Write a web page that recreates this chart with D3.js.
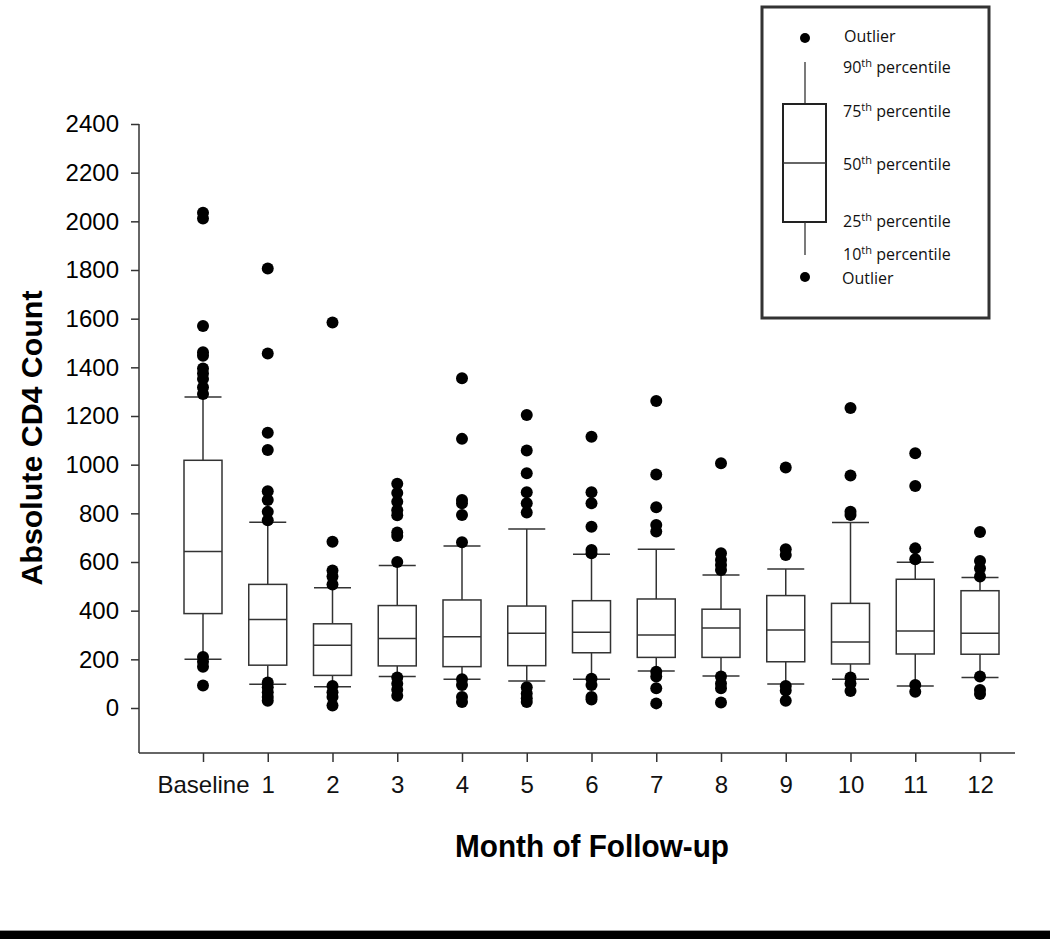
<!DOCTYPE html>
<html>
<head>
<meta charset="utf-8">
<script src="https://cdn.jsdelivr.net/npm/d3@7"></script>
<style>
  html, body { margin: 0; padding: 0; background: #fff; }
  svg { display: block; }
</style>
</head>
<body>
<svg id="chart" width="1050" height="939"></svg>
<script>
const categories = ["Baseline","1","2","3","4","5","6","7","8","9","10","11","12"];
const p10    = [200, 98, 87, 129, 118, 111, 118, 152, 132, 99, 118, 90, 125];
const q1     = [388, 176, 134, 173, 170, 174, 227, 208, 208, 190, 181, 222, 221];
const median = [643, 364, 258, 286, 293, 307, 311, 300, 329, 321, 271, 316, 307];
const q3     = [1018, 508, 346, 421, 444, 419, 441, 448, 406, 462, 430, 529, 482];
const p90    = [1278, 763, 494, 586, 666, 736, 632, 652, 547, 571, 762, 599, 536];
const outliers = [
  [2035, 2012, 1570, 1462, 1448, 1395, 1375, 1352, 1318, 1290, 210, 190, 170, 92],
  [1806, 1457, 1131, 1060, 891, 855, 806, 772, 105, 85, 65, 45, 30],
  [1584, 683, 565, 540, 508, 90, 65, 45, 10],
  [922, 884, 848, 813, 792, 721, 707, 600, 125, 100, 75, 50],
  [1355, 1106, 855, 841, 793, 681, 118, 95, 45, 25],
  [1204, 1058, 965, 887, 841, 803, 85, 60, 40, 25],
  [1115, 887, 841, 745, 649, 636, 120, 95, 45, 35],
  [1262, 960, 825, 752, 725, 149, 129, 81, 19],
  [1006, 636, 608, 588, 567, 129, 101, 81, 23],
  [988, 652, 629, 90, 72, 30],
  [1233, 955, 807, 793, 125, 101, 70],
  [1047, 912, 656, 611, 95, 67],
  [723, 604, 574, 540, 129, 74, 58]
];
const yTicks = [0, 200, 400, 600, 800, 1000, 1200, 1400, 1600, 1800, 2000, 2200, 2400];
const xTitle = "Month of Follow-up";
const yTitle = "Absolute CD4 Count";

const svg = d3.select("#chart");
const lineColor = "#333";
const boxW = 38, capW = 37, dotR = 6;

const x = d3.scalePoint().domain(categories).range([203, 980]);
const y = d3.scaleLinear().domain([0, 2400]).range([708, 124]);
const axisX = 139, axisBottom = 753, axisRight = 1015;

// Y axis
const yAxis = d3.axisLeft(y).tickValues(yTicks).tickSize(8).tickPadding(12).tickFormat(d3.format("d"));
const gy = svg.append("g").attr("transform", `translate(${axisX},0)`).call(yAxis);
gy.select(".domain").remove();
gy.selectAll(".tick line").attr("stroke", lineColor).attr("stroke-width", 1.5);
gy.selectAll(".tick text").attr("font-family", "Liberation Sans, Arial, sans-serif")
  .attr("font-size", 24).attr("fill", "#000");
svg.append("line").attr("x1", axisX).attr("x2", axisX).attr("y1", y(2400)).attr("y2", axisBottom)
  .attr("stroke", lineColor).attr("stroke-width", 1.5);

// X axis
const xAxis = d3.axisBottom(x).tickSize(9).tickPadding(14);
const gx = svg.append("g").attr("transform", `translate(0,${axisBottom})`).call(xAxis);
gx.select(".domain").remove();
gx.selectAll(".tick line").attr("stroke", lineColor).attr("stroke-width", 1.5);
gx.selectAll(".tick text").attr("font-family", "Liberation Sans, Arial, sans-serif")
  .attr("font-size", 24).attr("fill", "#111");
svg.append("line").attr("x1", axisX).attr("x2", axisRight).attr("y1", axisBottom).attr("y2", axisBottom)
  .attr("stroke", lineColor).attr("stroke-width", 1.5);

// Titles
svg.append("text").attr("x", 592).attr("y", 857).attr("text-anchor", "middle")
  .attr("font-family", "Liberation Sans, Arial, sans-serif").attr("font-weight", "bold")
  .attr("font-size", 31).attr("fill", "#000").attr("textLength", 274).attr("lengthAdjust", "spacingAndGlyphs")
  .text(xTitle);
svg.append("text").attr("transform", "translate(42,438) rotate(-90)").attr("text-anchor", "middle")
  .attr("font-family", "Liberation Sans, Arial, sans-serif").attr("font-weight", "bold")
  .attr("font-size", 30).attr("fill", "#000").attr("textLength", 295).attr("lengthAdjust", "spacingAndGlyphs")
  .text(yTitle);

// Boxes
const data = categories.map((c, i) => ({ c, p10: p10[i], q1: q1[i], med: median[i], q3: q3[i], p90: p90[i], out: outliers[i] }));
const g = svg.append("g").selectAll("g").data(data).join("g");
g.append("line").attr("x1", d => x(d.c)).attr("x2", d => x(d.c))
  .attr("y1", d => y(d.q3)).attr("y2", d => y(d.p90)).attr("stroke", lineColor).attr("stroke-width", 1.5);
g.append("line").attr("x1", d => x(d.c)).attr("x2", d => x(d.c))
  .attr("y1", d => y(d.q1)).attr("y2", d => y(d.p10)).attr("stroke", lineColor).attr("stroke-width", 1.5);
g.append("line").attr("x1", d => x(d.c) - capW / 2).attr("x2", d => x(d.c) + capW / 2)
  .attr("y1", d => y(d.p90)).attr("y2", d => y(d.p90)).attr("stroke", lineColor).attr("stroke-width", 1.5);
g.append("line").attr("x1", d => x(d.c) - capW / 2).attr("x2", d => x(d.c) + capW / 2)
  .attr("y1", d => y(d.p10)).attr("y2", d => y(d.p10)).attr("stroke", lineColor).attr("stroke-width", 1.5);
g.append("rect").attr("x", d => x(d.c) - boxW / 2).attr("width", boxW)
  .attr("y", d => y(d.q3)).attr("height", d => y(d.q1) - y(d.q3))
  .attr("fill", "#fff").attr("stroke", lineColor).attr("stroke-width", 1.5);
g.append("line").attr("x1", d => x(d.c) - boxW / 2).attr("x2", d => x(d.c) + boxW / 2)
  .attr("y1", d => y(d.med)).attr("y2", d => y(d.med)).attr("stroke", lineColor).attr("stroke-width", 1.5);
g.selectAll("circle").data(d => d.out.map(v => ({ c: d.c, v }))).join("circle")
  .attr("cx", d => x(d.c)).attr("cy", d => y(d.v)).attr("r", dotR).attr("fill", "#000");

// Legend
const lg = svg.append("g");
lg.append("rect").attr("x", 762).attr("y", 7).attr("width", 227).attr("height", 311)
  .attr("fill", "#fff").attr("stroke", "#333").attr("stroke-width", 3);
const lx = 805;
lg.append("circle").attr("cx", lx).attr("cy", 38).attr("r", 5).attr("fill", "#000");
lg.append("line").attr("x1", lx).attr("x2", lx).attr("y1", 62).attr("y2", 104).attr("stroke", lineColor).attr("stroke-width", 1.3);
lg.append("rect").attr("x", 783).attr("y", 104).attr("width", 43).attr("height", 118)
  .attr("fill", "#fff").attr("stroke", "#222").attr("stroke-width", 2);
lg.append("line").attr("x1", 783).attr("x2", 826).attr("y1", 163).attr("y2", 163).attr("stroke", lineColor).attr("stroke-width", 1.3);
lg.append("line").attr("x1", lx).attr("x2", lx).attr("y1", 222).attr("y2", 255).attr("stroke", lineColor).attr("stroke-width", 1.3);
lg.append("circle").attr("cx", lx).attr("cy", 277).attr("r", 5).attr("fill", "#000");

const legendItems = [
  { num: null, label: "Outlier", y: 42, x: 844 },
  { num: "90", label: " percentile", y: 73, x: 843 },
  { num: "75", label: " percentile", y: 117, x: 843 },
  { num: "50", label: " percentile", y: 170, x: 843 },
  { num: "25", label: " percentile", y: 227, x: 843 },
  { num: "10", label: " percentile", y: 260, x: 843 },
  { num: null, label: "Outlier", y: 284, x: 842 }
];
legendItems.forEach(it => {
  const t = lg.append("text").attr("x", it.x).attr("y", it.y)
    .attr("font-family", "Open Sans, Lato, sans-serif").attr("font-size", 16).attr("fill", "#111");
  if (it.num) {
    t.append("tspan").text(it.num);
    t.append("tspan").attr("font-size", 11).attr("dy", -6).text("th");
    t.append("tspan").attr("dy", 6).text(it.label);
  } else {
    t.text(it.label);
  }
});

// Bottom black band
svg.append("rect").attr("x", 0).attr("y", 930).attr("width", 1050).attr("height", 1).attr("fill", "#999");
svg.append("rect").attr("x", 0).attr("y", 931).attr("width", 1050).attr("height", 8).attr("fill", "#000");
</script>
</body>
</html>
